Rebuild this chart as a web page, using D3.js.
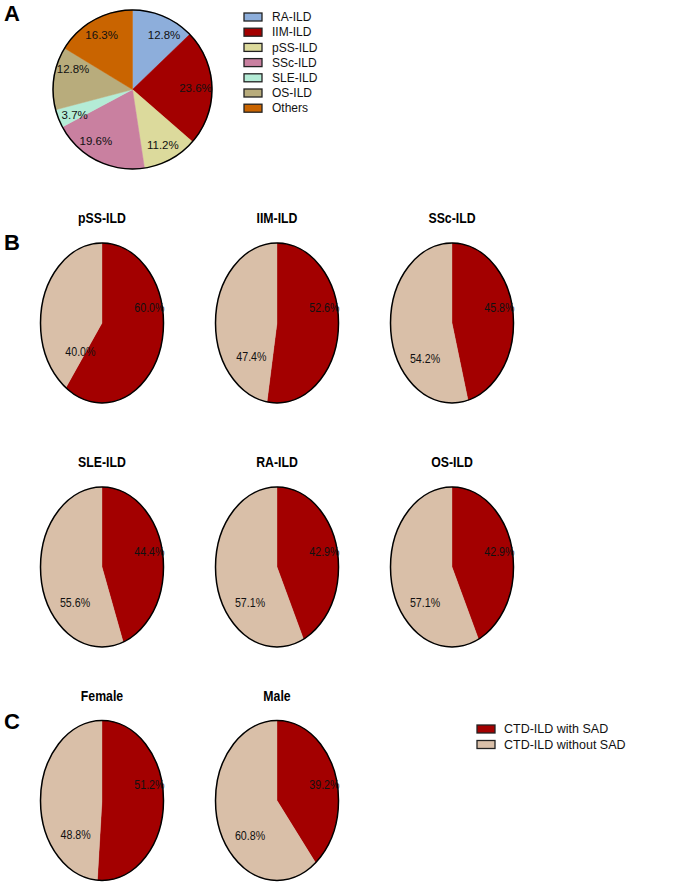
<!DOCTYPE html>
<html>
<head>
<meta charset="utf-8">
<script src="https://cdn.jsdelivr.net/npm/d3@7"></script>
<style>
  html, body { margin: 0; padding: 0; background: #fff; }
  svg { display: block; }
  .reg { font-family: "Liberation Sans", Arial, sans-serif; }
</style>
</head>
<body>
<svg id="chart" width="685" height="885"></svg>
<script>
// ---- Data ----
const aCategories = ["RA-ILD", "IIM-ILD", "pSS-ILD", "SSc-ILD", "SLE-ILD", "OS-ILD", "Others"];
const aValues = [12.8, 23.6, 11.2, 19.6, 3.7, 12.8, 16.3];
const aColors = ["#8DAEDB", "#A30000", "#DCDA9C", "#C980A0", "#B4ECD6", "#B8AC7C", "#C96400"];

const groupNames = ["pSS-ILD", "IIM-ILD", "SSc-ILD", "SLE-ILD", "RA-ILD", "OS-ILD"];
const groupWithSAD = [60.0, 52.6, 45.8, 44.4, 42.9, 42.9];
const groupWithoutSAD = [40.0, 47.4, 54.2, 55.6, 57.1, 57.1];

const sexNames = ["Female", "Male"];
const sexWithSAD = [51.2, 39.2];
const sexWithoutSAD = [48.8, 60.8];

const sadLegend = ["CTD-ILD with SAD", "CTD-ILD without SAD"];
const sadColors = ["#A30000", "#D9BFA8"];

const panelLetters = ["A", "B", "C"];

// label angle nudges (degrees) for panel A, as placed by the original software
const aLabelNudge = [7, 0, 0, 9, -2, 11, 0];

// ---- Drawing ----
const svg = d3.select("#chart");
const fmt = d => d3.format(".1f")(d) + "%";
const NARROW = 0.82;

function narrowText(parent, x, y, txt, opts) {
  const t = parent.append("text").attr("class", "reg")
    .attr("transform", `translate(${x},${y}) scale(${NARROW},1)`)
    .attr("x", 0).attr("y", 0).attr("dy", "0.35em")
    .attr("text-anchor", opts.anchor || "middle")
    .attr("font-size", opts.size).attr("fill", opts.fill || "#111")
    .text(txt);
  if (opts.bold) t.attr("font-weight", "bold");
  return t;
}

// Panel letters
const letterPos = [[4, 21], [4, 250], [4, 729]];
panelLetters.forEach((L, i) => {
  svg.append("text").attr("class", "reg")
    .attr("x", letterPos[i][0]).attr("y", letterPos[i][1])
    .attr("font-size", 22).attr("font-weight", "bold").attr("fill", "#000")
    .text(L);
});

// Panel A pie
(function () {
  const cx = 132.5, cy = 89.5, R = 79.5;
  const g = svg.append("g").attr("transform", `translate(${cx},${cy})`);
  const pie = d3.pie().sort(null).value(d => d.v);
  const data = pie(aCategories.map((c, i) => ({ c, v: aValues[i], col: aColors[i], nudge: aLabelNudge[i] })));
  const arc = d3.arc().innerRadius(0).outerRadius(R);
  g.selectAll("path.slice").data(data).join("path")
    .attr("class", "slice").attr("d", arc)
    .attr("fill", d => d.data.col)
    .attr("stroke", d => d.data.col).attr("stroke-width", 0.5);
  g.append("circle").attr("r", R).attr("fill", "none").attr("stroke", "#000").attr("stroke-width", 1.5);
  g.selectAll("text.lbl").data(data).join("text")
    .attr("class", "lbl reg")
    .attr("transform", d => {
      const a = (d.startAngle + d.endAngle) / 2 + d.data.nudge * Math.PI / 180;
      const r = 63;
      return `translate(${r * Math.sin(a)},${-r * Math.cos(a)})`;
    })
    .attr("text-anchor", "middle").attr("dy", "0.35em")
    .attr("font-size", 11.5).attr("fill", "#111")
    .text(d => fmt(d.data.v));

  // Legend A
  const lg = svg.append("g").attr("transform", "translate(244,17)");
  const row = lg.selectAll("g").data(aCategories).join("g")
    .attr("transform", (d, i) => `translate(0,${i * 15.2})`);
  row.append("rect").attr("x", 0).attr("y", -4).attr("width", 18).attr("height", 8)
    .attr("fill", (d, i) => aColors[i]).attr("stroke", "#222").attr("stroke-width", 1.3);
  row.append("text").attr("class", "reg").attr("x", 28).attr("y", 0).attr("dy", "0.35em")
    .attr("font-size", 12).attr("fill", "#111").text(d => d);
})();

// Elliptical two-slice pie
function drawPie(cx, cy, title, withV, withoutV) {
  const rx = 61.5, ry = 80;
  const g = svg.append("g");
  narrowText(svg, cx, cy - ry - 25, title, { size: 15, bold: true, fill: "#000" });
  const pie = d3.pie().sort(null).value(d => d.v);
  const data = pie([{ v: withV, col: sadColors[0] }, { v: withoutV, col: sadColors[1] }]);
  const arc = d3.arc().innerRadius(0).outerRadius(ry);
  const pg = g.append("g").attr("transform", `translate(${cx},${cy}) scale(${rx / ry},1)`);
  pg.selectAll("path").data(data).join("path")
    .attr("d", arc).attr("fill", d => d.data.col)
    .attr("stroke", d => d.data.col).attr("stroke-width", 0.4);
  g.append("ellipse").attr("cx", cx).attr("cy", cy).attr("rx", rx).attr("ry", ry)
    .attr("fill", "none").attr("stroke", "#000").attr("stroke-width", 1.5);
  // with-SAD label (right side)
  narrowText(g, cx + rx + 1, cy - 16, fmt(withV), { size: 13, anchor: "end" });
  // without-SAD label (lower-left)
  const f = Math.min(1, withoutV / 50);
  narrowText(g, cx - 27 * f, cy + 35 * f, fmt(withoutV), { size: 13 });
}

const colX = [102, 277, 452];
const rowY = [323, 567, 800.5];
groupNames.forEach((n, i) => {
  drawPie(colX[i % 3], rowY[Math.floor(i / 3)], n, groupWithSAD[i], groupWithoutSAD[i]);
});
sexNames.forEach((n, i) => {
  drawPie(colX[i], rowY[2], n, sexWithSAD[i], sexWithoutSAD[i]);
});

// Legend C
(function () {
  const lg = svg.append("g").attr("transform", "translate(477,729)");
  const row = lg.selectAll("g").data(sadLegend).join("g")
    .attr("transform", (d, i) => `translate(0,${i * 15.5})`);
  row.append("rect").attr("x", 0).attr("y", -4).attr("width", 18).attr("height", 8)
    .attr("fill", (d, i) => sadColors[i]).attr("stroke", "#222").attr("stroke-width", 1.3);
  row.append("text").attr("class", "reg").attr("x", 27).attr("y", 0).attr("dy", "0.35em")
    .attr("font-size", 12.5).attr("fill", "#111").text(d => d);
})();
</script>
</body>
</html>
